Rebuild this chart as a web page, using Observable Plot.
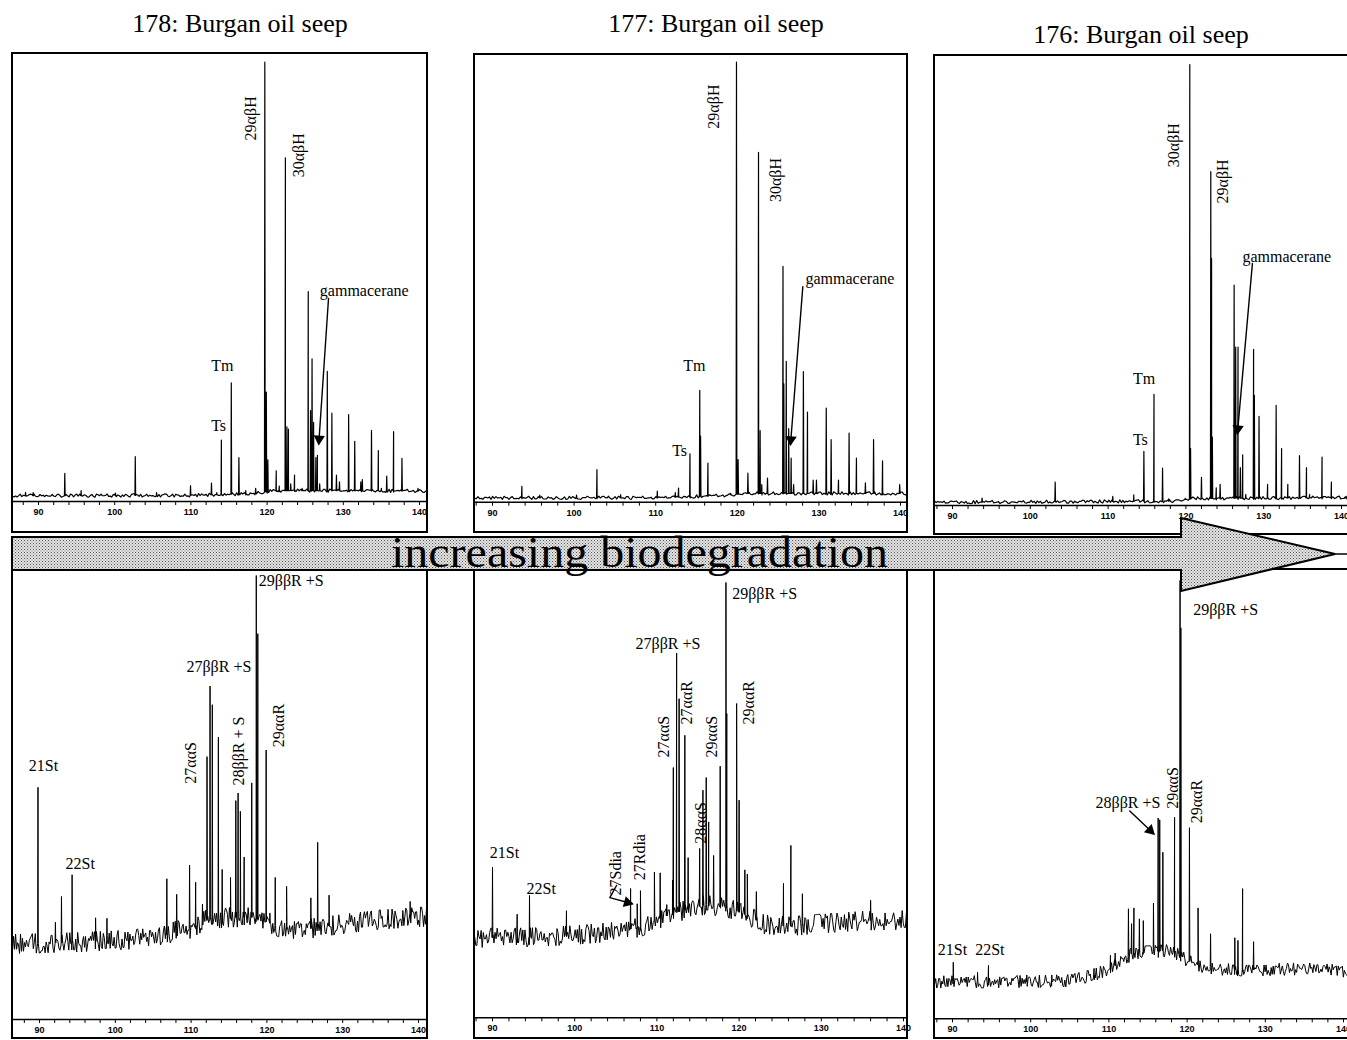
<!DOCTYPE html>
<html><head><meta charset="utf-8">
<script src="https://cdn.jsdelivr.net/npm/d3@7"></script>
<script src="https://cdn.jsdelivr.net/npm/@observablehq/plot@0.6"></script>
<style>
body{margin:0;background:#fff}
#root{position:relative;width:1347px;height:1040px;overflow:hidden;background:#fff}
.title{position:absolute;width:400px;text-align:center;font-family:"Liberation Serif",serif;font-size:26px;line-height:26px;color:#000;white-space:nowrap}
.panel{position:absolute}
.panel svg{display:block;overflow:visible;max-width:none}
.frame{position:absolute;border:2px solid #000;box-sizing:border-box;pointer-events:none}
</style></head>
<body><div id="root"></div>
<script>
// ---------------- data ----------------
const titles = ["178: Burgan oil seep", "177: Burgan oil seep", "176: Burgan oil seep"];
const xTickLabels = [90, 100, 110, 120, 130, 140];
const xMinorTicks = [88,90,92,94,96,98,100,102,104,106,108,110,112,114,116,118,120,122,124,126,128,130,132,134,136,138,140];
const arrowText = "increasing biodegradation";

// hopanes (top row): [retention time, relative intensity %]
const hop178Base = [[86,1.3],[110,1.4],[118,1.8],[121,2.5],[142,2.4]];
const hop178Peaks = [[88.3,2.1],[89.3,2.0],[93.45,6.4],[95.6,2.5],[100.1,1.9],[102.7,10.2],[105.5,2.0],[109.95,3.6],[112.7,4.2],[113.4,2.0],[114.0,14.0],[115.3,27.0],[116.3,10.0],[117.2,2.5],[118.5,3.0],[119.7,100],[119.9,24.9],[120.1,9.5],[121.2,7.0],[121.6,3.5],[122.4,78.2],[122.6,17.0],[122.8,16.5],[123.1,4.0],[123.6,6.0],[124.6,3.0],[125.4,47.8],[125.7,20.7],[125.9,32.5],[126.1,18.0],[126.4,10.0],[126.6,10.5],[126.9,4.0],[127.9,29.6],[128.5,20.1],[129.1,6.0],[129.5,4.5],[130.7,19.8],[131.5,13.7],[132.3,4.5],[132.5,5.0],[133.7,16.2],[134.6,11.6],[135.0,3.0],[135.7,5.8],[136.6,15.9],[137.7,9.8],[139.8,3.0]];
const hop178Labels = [["29αβH",117.93,82.2,"v"],["30αβH",124.23,73.8,"v"],["gammacerane",126.92,48.0,"h"],["Tm",112.66,30.9,"h"],["Ts",112.66,17.3,"h"]];
const hop178Arrows = [[[128.06,46.2],[126.78,13.1]]];

const hop177Base = [[86,1.0],[110,1.0],[118,1.5],[121,2.0],[142,2.0]];
const hop177Peaks = [[93.6,3.6],[95.8,1.6],[100.3,1.6],[102.8,7.4],[105.7,1.7],[110.2,2.5],[112.4,2.2],[112.8,3.2],[114.2,11.0],[115.4,25.4],[115.5,15.0],[116.4,8.9],[119.2,2.0],[119.9,100],[120.1,9.7],[121.3,6.6],[122.6,79.5],[122.8,16.3],[123.0,4.0],[123.7,5.5],[125.6,53.6],[125.7,26.9],[126.0,32.0],[126.3,16.7],[126.6,10.0],[126.9,4.0],[128.1,29.7],[128.6,20.5],[129.3,5.0],[129.7,5.0],[130.9,21.4],[131.5,14.2],[132.4,5.0],[133.7,15.7],[134.6,10.0],[135.7,4.4],[136.7,14.2],[137.8,9.4],[139.9,4.0]];
const hop177Labels = [["29αβH",117.12,84.9,"v"],["30αβH",124.68,68.2,"v"],["gammacerane",128.36,50.7,"h"],["Tm",113.37,31.0,"h"],["Ts",112.02,11.7,"h"]];
const hop177Arrows = [[[128.03,49.0],[126.52,13.1]]];

const hop176Base = [[86,0.7],[118,1.0],[121,1.6],[142,1.8]];
const hop176Peaks = [[93.8,1.7],[95.9,0.9],[100.4,0.8],[103.2,5.3],[105.7,0.8],[110.6,2.1],[112.9,1.0],[113.3,2.4],[114.6,12.3],[115.9,25.2],[117.0,8.5],[117.8,1.5],[119.9,1.6],[120.5,100],[120.6,12.9],[122.0,6.4],[123.2,75.7],[123.3,56.0],[123.4,15.5],[123.9,4.0],[124.4,4.8],[126.2,50.0],[126.4,35.9],[126.7,35.9],[127.0,8.6],[127.3,11.5],[127.7,2.5],[128.7,35.4],[128.8,25.0],[129.4,20.2],[130.5,4.8],[131.6,22.7],[132.3,12.9],[133.1,4.8],[134.6,11.3],[135.5,8.6],[135.9,2.5],[137.5,11.0],[138.7,5.3],[140.6,1.5]];
const hop176Labels = [["30αβH",118.46,76.7,"v"],["29αβH",124.79,68.5,"v"],["gammacerane",127.26,56.3,"h"],["Tm",113.19,28.7,"h"],["Ts",113.19,14.9,"h"]];
const hop176Arrows = [[[128.55,54.9],[126.62,16.3]]];

// steranes (bottom row)
const ster178Base = [[86,17.0],[95,17.4],[100,17.8],[106,18.5],[108,20.0],[110,20.5],[112,22.5],[115,23.0],[118,23.0],[120,22.0],[122,20.5],[125,20.3],[130,21.5],[135,22.5],[142,23.3]];
const ster178Peaks = [[89.8,52.3],[92.1,21.9],[92.9,27.7],[94.3,32.6],[97.4,22.9],[98.9,22.8],[106.8,31.7],[108.1,28.2],[109.8,34.8],[110.6,30.9],[111.5,26.0],[112.1,59.2],[112.5,75.1],[112.8,70.9],[113.6,63.6],[114.1,33.8],[115.2,32.0],[115.9,49.3],[116.2,51.0],[116.5,46.9],[117.0,36.6],[118.0,53.3],[118.6,100],[118.8,86.9],[119.9,60.7],[120.4,24.0],[121.1,32.0],[122.6,30.0],[125.8,27.4],[126.7,39.9],[128.2,28.0],[138.9,26.6]];
const ster178Labels = [["21St",88.59,57.2,"h"],["22St",93.43,35.0,"h"],["27ααS",110.03,53.1,"v"],["27ββR +S",109.39,79.5,"h"],["28ββR + S",116.29,52.7,"v"],["29ββR +S",118.93,98.7,"h"],["29ααR",121.57,61.3,"v"]];
const ster178Arrows = [];

const ster177Base = [[86,18.3],[95,18.5],[100,19.0],[105,19.8],[108,20.8],[110,22.5],[112,24.0],[116,26.0],[119,25.0],[121,23.5],[123,21.5],[126,21.0],[130,21.6],[135,22.3],[142,22.5]];
const ster177Peaks = [[90.0,34.6],[93.0,23.8],[94.5,28.1],[99.0,24.6],[106.8,29.7],[107.6,26.2],[108.0,29.2],[109.7,33.5],[110.4,33.3],[111.2,26.0],[111.9,31.6],[112.0,57.5],[112.4,83.8],[112.7,73.3],[113.4,64.9],[113.8,36.8],[115.2,38.9],[115.6,52.3],[116.0,55.2],[116.3,45.0],[116.9,37.3],[117.7,57.8],[118.4,100],[118.5,69.9],[119.7,72.2],[120.0,50.0],[120.7,34.0],[121.0,33.0],[122.1,29.0],[125.4,30.9],[126.3,39.6],[127.7,28.5],[136.0,27.0]];
const ster177Labels = [["21St",89.67,38.0,"h"],["22St",94.14,29.6,"h"],["27Sdia",104.96,28.1,"v"],["27Rdia",107.91,31.6,"v"],["27ααS",110.84,59.8,"v"],["27ββR +S",107.40,85.8,"h"],["27ααR",113.69,67.4,"v"],["28ααS",115.30,40.0,"v"],["29ααS",116.73,59.8,"v"],["29ββR +S",119.16,97.3,"h"],["29ααR",121.18,67.4,"v"]];
const ster177Arrows = [[[105.09,30.4],[104.27,27.6],[107.0,26.2]]];

const ster176Base = [[86,8.4],[100,8.5],[105,8.7],[108,9.9],[110,11.4],[112,13.3],[113,15.0],[118,15.6],[120,13.3],[122,11.9],[125,11.2],[130,11.2],[135,11.4],[142,10.7]];
const ster176Peaks = [[90.1,12.9],[93.2,10.6],[94.6,12.2],[99.5,10.0],[102.7,10.0],[108.1,11.5],[110.2,14.5],[110.8,15.0],[112.5,25.1],[112.9,21.7],[113.2,25.3],[113.9,22.8],[114.4,22.4],[115.7,26.4],[116.3,45.8],[116.5,45.4],[116.9,38.0],[118.4,46.0],[119.1,100],[119.2,89.2],[120.3,43.6],[121.4,25.3],[123.0,19.4],[126.1,18.5],[126.5,17.9],[127.1,29.7],[128.5,17.6]];
const ster176Labels = [["21St  22St",88.12,15.8,"h"],["28ββR +S",108.29,49.3,"h"],["29ααS",118.22,47.9,"v"],["29ααR",121.29,44.6,"v"],["29ββR +S",120.78,93.3,"h"]];
const ster176Arrows = [[[112.67,47.4],[115.74,42.2]]];

// estimated baseline noise, as a fixed hand-typed digit sequence (0-9 around 4.5)
const jitterDigits =
  "31415926535897932384626433832795028841971693993751058209749445923078164062862089986280348253421170679821480865132823066470938446095505822317253594081284811174502841027019385211055596446229489549303819644288109756659334461284756482337867831652712019091456485669234603486104543266482133936072602491412737245870066063155881748815209209628292540917153643678925903600113305305488204665213841469519415116094330572703657595919530921861173819326117931051185480744623799627495673518857527248912279381830119491298336733624406566430860213949463952247371907021798609437027705392171762931767523846748184676694051320005681271452635608277857713427577896091736371787214684409012249534301465495853710507922796892589235420199561121290219608640344181598136297747713099605187072113499999983729780499510597317328160963185950244594553469083026425223082533446850352619311881710100031378387528865875332083814206171776691473035982534904287554687311595628638823537875937519577818577805321712268066130019278766111959092164201989";

// ---------------- layout ----------------
const titleLayout = [{cx:240, top:11}, {cx:716, top:11}, {cx:1141, top:22}];
const panelLayout = [
  {left:11,  top:52,  width:417, height:481, axisY:449,   topY:9.7, x90:27, x140:408, amp:0.35, step:0.2,  sw:1.2, off:0},
  {left:473, top:53,  width:435, height:480, axisY:448.7, topY:8.7, x90:19, x140:427, amp:0.35, step:0.2,  sw:1.2, off:111},
  {left:933, top:54,  width:430, height:481, axisY:451,   topY:10,  x90:19, x140:408, amp:0.35, step:0.2,  sw:1.2, off:222},
  {left:11,  top:568, width:417, height:471, axisY:451,   topY:7,   x90:28, x140:407, amp:2.2,  step:0.13, sw:1.0, off:333},
  {left:473, top:568, width:435, height:471, axisY:449.3, topY:14,  x90:19, x140:430, amp:2.2,  step:0.13, sw:1.0, off:444},
  {left:933, top:568, width:430, height:471, axisY:450.3, topY:12,  x90:19, x140:410, amp:1.4,  step:0.13, sw:1.0, off:555}
];
const panelData = [
  [hop178Base, hop178Peaks, hop178Labels, hop178Arrows],
  [hop177Base, hop177Peaks, hop177Labels, hop177Arrows],
  [hop176Base, hop176Peaks, hop176Labels, hop176Arrows],
  [ster178Base, ster178Peaks, ster178Labels, ster178Arrows],
  [ster177Base, ster177Peaks, ster177Labels, ster177Arrows],
  [ster176Base, ster176Peaks, ster176Labels, ster176Arrows]
];

const root = document.getElementById("root");

titles.forEach((t, i) => {
  const d = document.createElement("div");
  d.className = "title";
  d.textContent = t;
  d.style.left = (titleLayout[i].cx - 200) + "px";
  d.style.top = titleLayout[i].top + "px";
  root.appendChild(d);
});

function buildTrace(base, peaks, L) {
  const baseAt = d3.scaleLinear().domain(base.map(d => d[0])).range(base.map(d => d[1]));
  const pxT = (L.x140 - L.x90) / 50;
  const tMin = 90 - L.x90 / pxT + 0.15;
  const tMax = 90 + (L.width - L.x90) / pxT - 0.15;
  const pts = [];
  let i = 0;
  for (let t = tMin; t <= tMax; t += L.step, i++) {
    const dgt = +jitterDigits[(i + L.off) % jitterDigits.length];
    pts.push({t, v: baseAt(t) + (dgt - 4.5) / 4.5 * L.amp});
  }
  for (const [t, h] of peaks) {
    const b = baseAt(t);
    pts.push({t: t - 0.045, v: b}, {t, v: h}, {t: t + 0.045, v: b});
  }
  pts.sort((a, b) => a.t - b.t);
  return pts;
}

panelLayout.forEach((L, k) => {
  const [base, peaks, labels, arrows] = panelData[k];
  const trace = buildTrace(base, peaks, L);
  const pxT = (L.x140 - L.x90) / 50, pxV = (L.axisY - L.topY) / 100;
  const hLabels = labels.filter(d => d[3] === "h");
  const vLabels = labels.filter(d => d[3] === "v");
  const marks = [
    Plot.line(trace, {x: "t", y: "v", stroke: "#000", strokeWidth: L.sw}),
    Plot.ruleY([0], {stroke: "#000", strokeWidth: 1.6}),
    Plot.text(hLabels, {x: d => d[1], y: d => d[2], text: d => d[0], textAnchor: "start", lineAnchor: "middle",
      fontFamily: "Liberation Serif", fontSize: 16, fontWeight: "normal", fill: "#000"}),
    Plot.text(vLabels, {x: d => d[1], y: d => d[2], text: d => d[0], textAnchor: "start", lineAnchor: "middle", rotate: -90,
      fontFamily: "Liberation Serif", fontSize: 16, fontWeight: "normal", fill: "#000"})
  ];
  for (const path of arrows) {
    marks.push(Plot.line(path, {x: d => d[0], y: d => d[1], stroke: "#000", strokeWidth: 1.4}));
    const a = path[path.length - 2], b = path[path.length - 1];
    const dx = (b[0] - a[0]) * pxT, dy = -(b[1] - a[1]) * pxV;
    const len = Math.hypot(dx, dy), ux = dx / len, uy = dy / len;
    const c = [b[0] - 5 * ux / pxT, b[1] + 5 * uy / pxV];
    const ang = Math.atan2(ux, -uy) * 180 / Math.PI;
    marks.push(Plot.dot([c], {x: d => d[0], y: d => d[1], symbol: "triangle", r: 4.2, fill: "#000", stroke: "none", rotate: ang}));
  }
  const svg = Plot.plot({
    width: L.width, height: L.height,
    marginTop: 0, marginLeft: 0, marginRight: 0, marginBottom: L.height - L.axisY,
    x: {domain: [90, 140], range: [L.x90, L.x140], ticks: xMinorTicks, tickSize: 4, tickPadding: 3,
        tickFormat: d => xTickLabels.includes(d) ? String(d) : "", label: null},
    y: {domain: [0, 100], range: [L.axisY, L.topY], axis: null},
    style: {background: "transparent", overflow: "visible", fontFamily: "Liberation Sans", fontSize: "9px", fontWeight: "bold", color: "#000"},
    marks
  });
  const div = document.createElement("div");
  div.className = "panel";
  div.style.left = L.left + "px"; div.style.top = L.top + "px";
  div.style.width = L.width + "px"; div.style.height = L.height + "px";
  div.appendChild(svg);
  root.appendChild(div);
  const fr = document.createElement("div");
  fr.className = "frame";
  fr.style.left = L.left + "px"; fr.style.top = L.top + "px";
  fr.style.width = L.width + "px"; fr.style.height = L.height + "px";
  root.appendChild(fr);
});

// big "increasing biodegradation" arrow overlay
const ov = d3.select(root).append("svg")
  .attr("width", 1347).attr("height", 1040)
  .style("position", "absolute").style("left", "0px").style("top", "0px");
const pat = ov.append("defs").append("pattern").attr("id", "stip")
  .attr("width", 3).attr("height", 3).attr("patternUnits", "userSpaceOnUse");
pat.append("rect").attr("width", 3).attr("height", 3).attr("fill", "#e4e4e4");
pat.append("rect").attr("x", 0).attr("y", 0).attr("width", 1).attr("height", 1).attr("fill", "#555");
pat.append("rect").attr("x", 1.5).attr("y", 1.5).attr("width", 1).attr("height", 1).attr("fill", "#777");
ov.append("polygon")
  .attr("points", "12,537 1181,537 1181,518 1335,554 1181,591 1181,570 12,570")
  .attr("fill", "url(#stip)").attr("stroke", "#000").attr("stroke-width", 2).attr("stroke-linejoin", "miter");
ov.append("line").attr("x1", 1335).attr("y1", 554).attr("x2", 1347).attr("y2", 554)
  .attr("stroke", "#000").attr("stroke-width", 1.5);
ov.append("text").attr("x", 391).attr("y", 567)
  .attr("font-family", "Liberation Serif").attr("font-size", 44).attr("fill", "#000")
  .attr("textLength", 497).attr("lengthAdjust", "spacingAndGlyphs")
  .text(arrowText);
</script>
</body></html>
